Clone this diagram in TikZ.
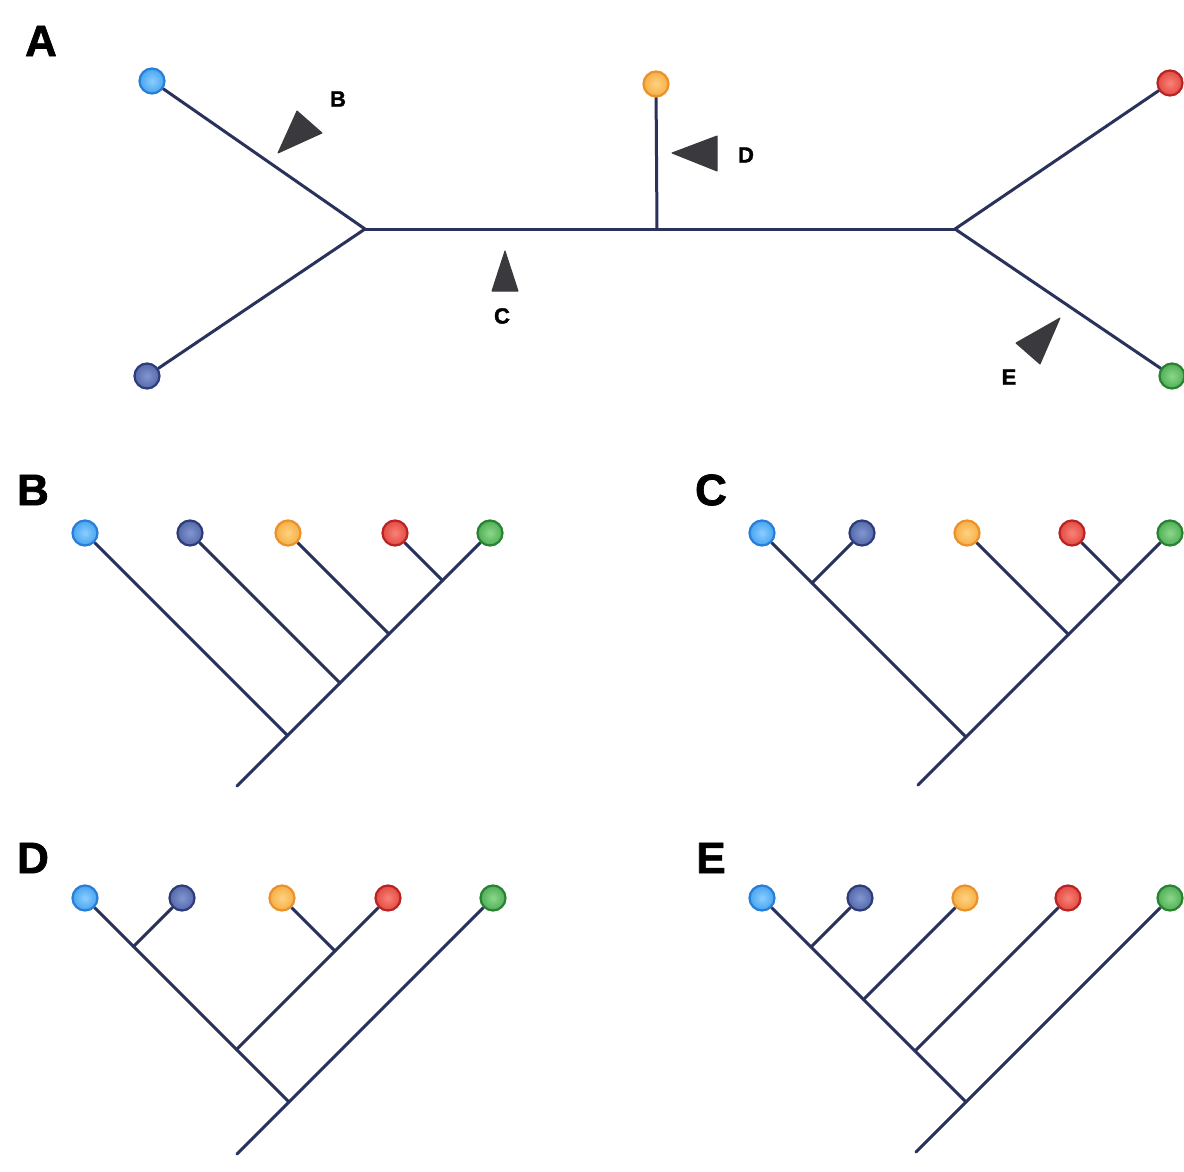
\documentclass[tikz,border=0pt]{standalone}
\usepackage{fontspec}
\newfontfamily\heavy{Liberation Sans}[BoldFeatures={FakeBold=1.6}]
\pgfdeclarelayer{branches}
\pgfsetlayers{branches,main}
\begin{document}
\begin{tikzpicture}[x=1pt,y=-1pt,
  branch/.style={draw=linecol,line width=3pt,line cap=round,line join=round},
  tip/.style={circle,minimum size=25pt,inner sep=0pt,line width=2.2pt},
  ltblue/.style={tip,draw=ltblueD,inner color=ltblueL,outer color=ltblueC},
  dkblue/.style={tip,draw=dkblueD,inner color=dkblueL,outer color=dkblueC},
  orange/.style={tip,draw=orangeD,inner color=orangeL,outer color=orangeC},
  red/.style={tip,draw=redD,inner color=redL,outer color=redC},
  green/.style={tip,draw=greenD,inner color=greenL,outer color=greenC},
  pointer/.style={fill=ptrcol,draw=ptrcol,line width=1pt,line join=round},
  panel/.style={font=\heavy\bfseries\fontsize{44}{44}\selectfont,inner sep=0pt},
  small/.style={font=\heavy\bfseries\fontsize{22}{22}\selectfont,inner sep=0pt}]

\definecolor{linecol}{RGB}{42,50,92}
\definecolor{ptrcol}{RGB}{58,58,62}
\definecolor{ltblueC}{RGB}{70,165,240}\definecolor{ltblueL}{RGB}{140,205,255}\definecolor{ltblueD}{RGB}{40,125,215}
\definecolor{dkblueC}{RGB}{85,105,170}\definecolor{dkblueL}{RGB}{130,150,210}\definecolor{dkblueD}{RGB}{45,60,120}
\definecolor{orangeC}{RGB}{245,175,70}\definecolor{orangeL}{RGB}{255,210,130}\definecolor{orangeD}{RGB}{235,145,40}
\definecolor{redC}{RGB}{225,75,65}\definecolor{redL}{RGB}{250,130,120}\definecolor{redD}{RGB}{185,35,35}
\definecolor{greenC}{RGB}{80,175,85}\definecolor{greenL}{RGB}{140,215,140}\definecolor{greenD}{RGB}{40,130,50}

\begin{pgfonlayer}{branches}
\fill[white] (0,0) rectangle (1184,1172);
\end{pgfonlayer}
\useasboundingbox (0,0) rectangle (1184,1172);

% ---------- unrooted tree ----------
\node[panel] (labA) at (41,41) {A};
\node[ltblue] (aLB) at (152,81) {};
\node[dkblue] (aDB) at (147,376) {};
\node[orange] (aOR) at (656,84) {};
\node[red] (aRD) at (1170,83) {};
\node[green] (aGR) at (1172,376) {};
\coordinate (ajL) at (365,229);
\coordinate (ajM) at (657,229);
\coordinate (ajR) at (955,229);
\begin{pgfonlayer}{branches}
\draw[branch] (aLB) -- (ajL) -- (aDB);
\draw[branch] (ajL) -- (ajR);
\draw[branch] (aOR) -- (ajM);
\draw[branch] (aRD) -- (ajR) -- (aGR);
\end{pgfonlayer}
% edge pointers
\fill[pointer] (278,153) -- (297,111) -- (322,133) -- cycle;
\node[small] (lbB) at (338,99) {B};
\fill[pointer] (672,153) -- (717,136) -- (717,171) -- cycle;
\node[small] (lbD) at (746,155) {D};
\fill[pointer] (505,251) -- (492,291) -- (518,291) -- cycle;
\node[small] (lbC) at (502,316) {C};
\fill[pointer] (1060,318) -- (1016,343) -- (1040,364) -- cycle;
\node[small] (lbE) at (1009,377) {E};

% ---------- rooted tree B ----------
\node[panel] (labB) at (33,490) {B};
\node[ltblue] (bLB) at (85,533) {};
\node[dkblue] (bDB) at (190,533) {};
\node[orange] (bOR) at (288,533) {};
\node[red] (bRD) at (395,533) {};
\node[green] (bGR) at (490,533) {};
\coordinate (bj1) at (442.5,580.5);
\coordinate (bj2) at (389,634);
\coordinate (bj3) at (340,683);
\coordinate (bj4) at (287.5,735.5);
\coordinate (bR) at (237,786);
\begin{pgfonlayer}{branches}
\draw[branch] (bGR) -- (bj1) -- (bj2) -- (bj3) -- (bj4) -- (bR);
\draw[branch] (bRD) -- (bj1);
\draw[branch] (bOR) -- (bj2);
\draw[branch] (bDB) -- (bj3);
\draw[branch] (bLB) -- (bj4);
\end{pgfonlayer}

% ---------- rooted tree C ----------
\node[panel] (labC) at (711,490) {C};
\node[ltblue] (cLB) at (762,533) {};
\node[dkblue] (cDB) at (862,533) {};
\node[orange] (cOR) at (967,533) {};
\node[red] (cRD) at (1072,533) {};
\node[green] (cGR) at (1170,533) {};
\coordinate (cj1) at (812,583);
\coordinate (cj2) at (1121,582);
\coordinate (cj3) at (1068.5,634.5);
\coordinate (cj4) at (966,737);
\coordinate (cR) at (918,785);
\begin{pgfonlayer}{branches}
\draw[branch] (cLB) -- (cj1) -- (cj4);
\draw[branch] (cDB) -- (cj1);
\draw[branch] (cRD) -- (cj2);
\draw[branch] (cGR) -- (cj2) -- (cj3) -- (cj4) -- (cR);
\draw[branch] (cOR) -- (cj3);
\end{pgfonlayer}

% ---------- rooted tree D ----------
\node[panel] (labD) at (33,858) {D};
\node[ltblue] (dLB) at (85,898) {};
\node[dkblue] (dDB) at (182,898) {};
\node[orange] (dOR) at (282,898) {};
\node[red] (dRD) at (388,898) {};
\node[green] (dGR) at (493,898) {};
\coordinate (dj1) at (133.5,946.5);
\coordinate (dj2) at (335,951);
\coordinate (dj3) at (236.5,1049.5);
\coordinate (dj4) at (289,1102);
\coordinate (dR) at (237,1154);
\begin{pgfonlayer}{branches}
\draw[branch] (dLB) -- (dj1) -- (dj3) -- (dj4) -- (dR);
\draw[branch] (dDB) -- (dj1);
\draw[branch] (dOR) -- (dj2);
\draw[branch] (dRD) -- (dj2) -- (dj3);
\draw[branch] (dGR) -- (dj4);
\end{pgfonlayer}

% ---------- rooted tree E ----------
\node[panel] (labE) at (711,858) {E};
\node[ltblue] (eLB) at (762,898) {};
\node[dkblue] (eDB) at (860,898) {};
\node[orange] (eOR) at (965,898) {};
\node[red] (eRD) at (1068,898) {};
\node[green] (eGR) at (1170,898) {};
\coordinate (ej1) at (811,947);
\coordinate (ej2) at (863.5,999.5);
\coordinate (ej3) at (915,1051);
\coordinate (ej4) at (966,1102);
\coordinate (eR) at (916,1152);
\begin{pgfonlayer}{branches}
\draw[branch] (eLB) -- (ej1) -- (ej2) -- (ej3) -- (ej4);
\draw[branch] (eDB) -- (ej1);
\draw[branch] (eOR) -- (ej2);
\draw[branch] (eRD) -- (ej3);
\draw[branch] (eGR) -- (ej4) -- (eR);
\end{pgfonlayer}
\end{tikzpicture}
\end{document}
